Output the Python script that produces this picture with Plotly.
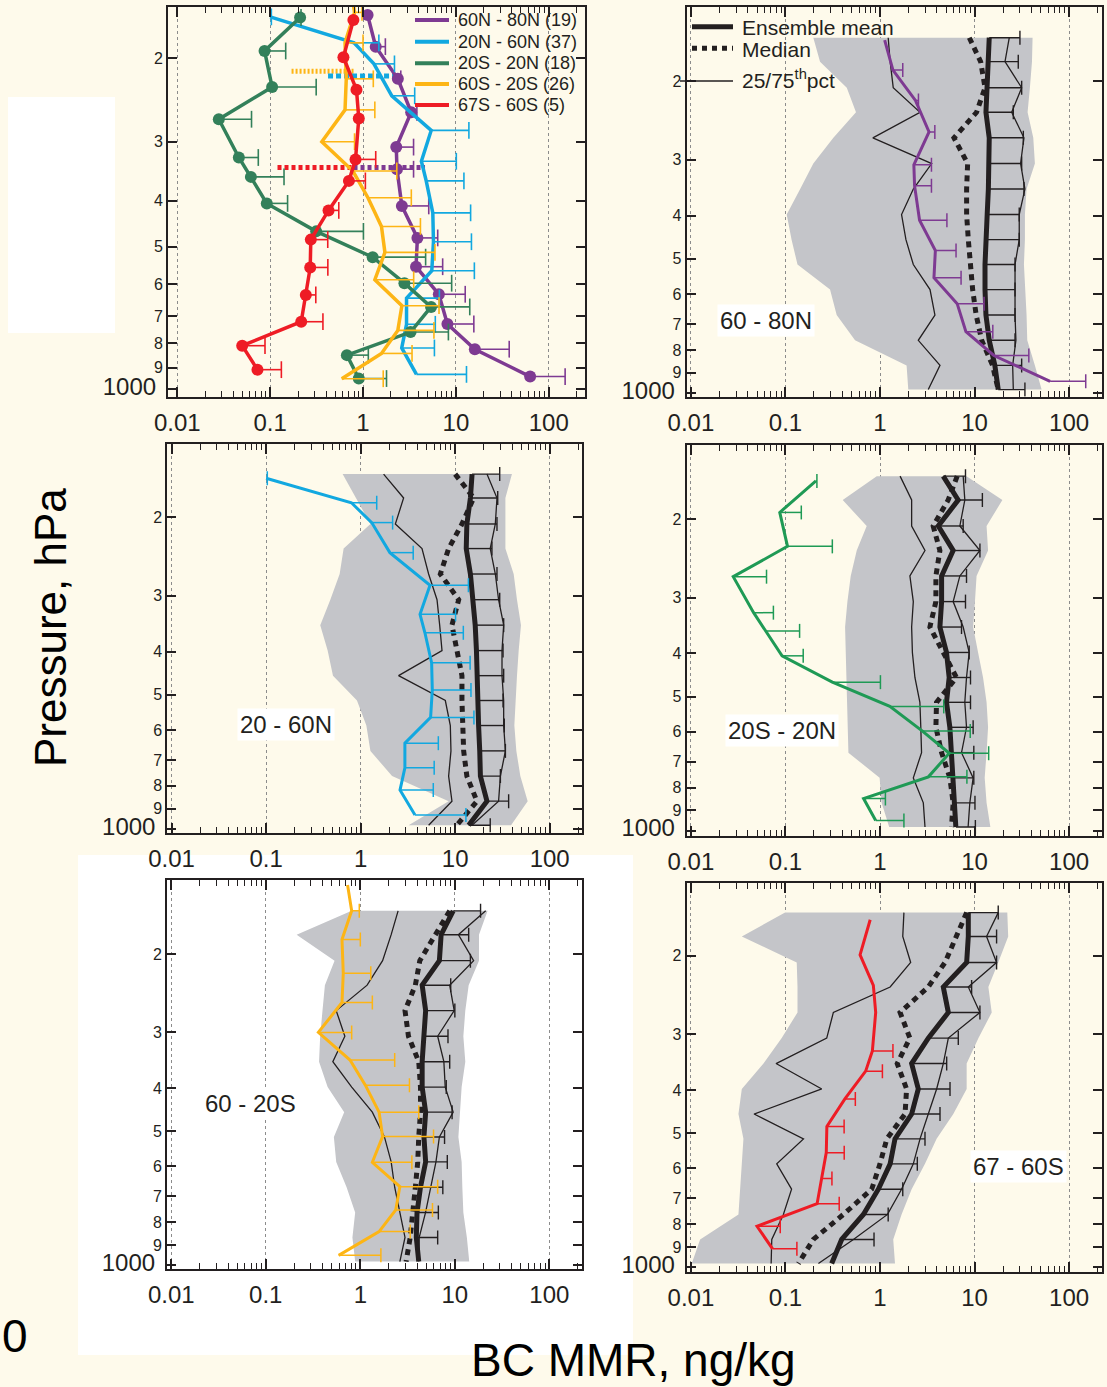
import plotly.graph_objects as go

W, H = 1107, 1387
CREAM = "#FEFAEB"
GRAY = "#C4C5C9"
INK = "#231F20"
PURPLE = "#7E3A92"
BLUE = "#12A8E0"
GREEN1 = "#33805A"
GREEN = "#1F9A55"
ORANGE = "#FDB515"
RED = "#EE1C25"
FONT = "Liberation Sans, Arial, Helvetica, sans-serif"

# ---------------- observations (BC MMR, ng/kg vs pressure, hPa) ----------------
obs_p_6080 = [162, 189, 221, 260, 308, 343, 410, 479, 551, 630, 728, 823, 940]
obs_x_6080 = [1.12, 1.37, 2.37, 3.3, 2.28, 2.32, 2.62, 3.85, 3.72, 6.55, 8.1, 16.0, 63.0]
obs_hi_6080 = [None, 1.74, 2.55, 3.8, 3.5, 3.5, 5.1, 6.37, 7.2, 12.6, 15.6, 37.5, 150.0]

obs_p_2060 = [163.5, 185.5, 205.5, 240, 284, 330, 363, 424, 488, 562, 642, 729, 818, 930]
obs_x_2060 = [0.1, 0.8, 1.31, 2.04, 5.42, 4.25, 4.79, 5.64, 5.73, 5.5, 2.94, 2.94, 2.61, 3.76]
obs_hi_2060 = [0.103, 1.48, 2.18, 3.6, 13.8, 10.1, 12.2, 14.4, 14.7, 15.8, 6.64, 6.0, 5.87, 13.0]

obs_p_trop = [164, 193, 230, 269, 324, 356, 405, 464, 526, 597, 670, 757, 847, 949]
obs_x_trop = [0.21, 0.087, 0.105, 0.028, 0.046, 0.062, 0.092, 0.313, 1.27, 2.79, 5.4, 3.25, 0.67, 0.90]
obs_hi_trop = [0.215, 0.147, 0.313, 0.063, 0.0745, 0.141, 0.154, 1.01, 4.72, 9.0, 14.1, 8.3, 1.14, 1.79]

obs_p_6020s = [140, 160, 185.5, 221, 257, 300, 346, 394, 453, 514, 587, 666, 751, 840, 950]
obs_x_6020s = [0.733, 0.81, 0.64, 0.66, 0.64, 0.36, 0.778, 1.13, 1.58, 1.72, 1.34, 2.62, 2.37, 1.58, 0.59]
obs_hi_6020s = [None, 0.975, 1.0, 1.29, 1.34, 0.81, 2.31, 3.31, 4.15, 5.95, 3.51, 6.58, 5.8, 3.37, 1.65]

obs_p_6760s = [166, 199, 233, 268, 327, 363, 419, 483, 553, 632, 720, 809, 909]
obs_x_6760s = [0.787, 0.615, 0.85, 0.9, 0.83, 0.705, 0.425, 0.274, 0.27, 0.242, 0.216, 0.05, 0.073]
obs_hi_6760s = [None, None, None, None, 1.37, 1.06, 0.548, 0.417, 0.418, 0.31, 0.37, 0.088, 0.132]

# dotted horizontal markers in the overview panel
dot_p = [213, 218, 340, 340]
dot_x0 = [0.17, 0.42, 0.12, 0.79]
dot_x1 = [0.79, 2.5, 0.79, 4.65]

band_names = ["60N - 80N (19)", "20N - 60N (37)", "20S - 20N (18)", "60S - 20S (26)", "67S - 60S (5)"]

# ---------------- model ensemble statistics ----------------
model_p = [160, 181, 207, 235, 268, 306, 349, 398, 453, 515, 586, 668, 761, 866, 981]

m6080_min = [0.197, 0.232, 0.445, 0.557, 0.321, 0.197, 0.143, 0.103, 0.116, 0.134, 0.296, 0.348, 0.544, 1.91, 1.99]
m6080_max = [41.1, 40.5, 38.5, 36.4, 41.8, 43.5, 35.5, 34.1, 34.1, 33.3, 34.1, 35.5, 36.1, 43.5, 51.2]
m6080_p25 = [1.22, 1.28, 1.38, 2.65, 0.84, 3.52, 2.25, 1.69, 1.88, 2.25, 3.38, 3.81, 2.54, 4.31, 3.24]
m6080_p75 = [23.3, 21.0, 31.5, 24.7, 33.3, 30.7, 34.1, 29.7, 29.7, 26.8, 26.8, 26.8, 27.4, 25.3, 25.7]
m6080_mean = [14.3, 14.0, 13.4, 13.2, 14.3, 14.3, 14.0, 13.6, 13.2, 12.9, 12.9, 13.2, 14.3, 16.4, 17.8]
m6080_hi = [30.2, 29.0, 31.5, 25.7, 32.8, 31.5, 33.3, 29.7, 29.7, 26.8, 26.8, 26.8, 26.8, 31.5, 34.1]
m6080_med = [8.8, 11.6, 12.9, 10.5, 6.06, 8.45, 8.24, 8.24, 8.59, 8.95, 9.55, 10.4, 11.9, 15.5, 17.8]

m2060_min = [0.645, 0.90, 1.27, 0.661, 0.6, 0.478, 0.374, 0.448, 0.51, 0.915, 1.15, 1.27, 2.15, 8.53, 3.22]
m2060_max = [39.9, 34.0, 34.0, 34.0, 41.6, 45.1, 49.7, 47.0, 45.1, 43.3, 42.3, 44.4, 48.9, 58.5, 39.0]
m2060_p25 = [1.75, 2.85, 2.33, 4.46, 5.24, 6.43, 6.86, 7.26, 2.52, 7.87, 8.89, 9.03, 8.53, 9.25, 5.24]
m2060_p75 = [21.7, 27.7, 26.6, 23.5, 26.6, 28.8, 32.6, 31.3, 31.3, 32.6, 32.6, 34.0, 30.1, 28.8, 15.1]
m2060_mean = [15.1, 14.5, 13.3, 13.1, 14.5, 15.4, 16.3, 16.8, 17.0, 17.3, 17.7, 18.2, 18.5, 21.7, 13.9]
m2060_hi = [29.6, 28.2, 27.7, 24.5, 27.7, 29.6, 32.6, 32.1, 32.6, 32.1, 33.1, 34.0, 30.1, 36.8, 23.5]
m2060_med = [10.0, 15.7, 11.8, 8.53, 6.97, 10.9, 9.25, 10.4, 11.8, 11.8, 12.1, 12.3, 13.3, 17.0, 10.4]

mtrop_min = [0.923, 0.403, 0.723, 0.567, 0.49, 0.452, 0.427, 0.434, 0.445, 0.452, 0.456, 0.463, 0.99, 1.04, 1.25]
mtrop_max = [8.22, 19.7, 13.4, 13.9, 10.5, 10.1, 9.66, 10.9, 12.3, 13.4, 13.9, 13.4, 12.8, 13.4, 14.7]
mtrop_p25 = [1.63, 2.16, 2.16, 2.99, 2.07, 2.25, 2.16, 2.2, 2.34, 2.64, 2.7, 2.75, 2.25, 2.87, 2.99]
mtrop_p75 = [7.58, 7.89, 6.99, 11.4, 6.99, 5.94, 7.58, 8.77, 8.22, 7.89, 8.22, 7.28, 9.66, 8.91, 8.55]
mtrop_mean = [4.66, 6.71, 4.13, 5.94, 4.48, 4.48, 4.3, 5.05, 5.39, 5.05, 5.48, 5.7, 5.94, 6.19, 6.34]
mtrop_hi = [8.02, 12.1, 7.58, 11.4, 8.22, 8.02, 7.28, 8.77, 9.06, 9.06, 9.66, 9.82, 9.82, 10.1, 10.2]
mtrop_med = [6.55, 5.26, 3.65, 4.3, 3.9, 3.9, 3.37, 4.66, 6.44, 3.96, 3.9, 4.48, 5.48, 5.94, 5.7]

m6020s_min = [0.811, 0.212, 0.534, 0.422, 0.398, 0.376, 0.366, 0.451, 0.675, 0.525, 0.556, 0.716, 0.882, 0.825, 0.882]
m6020s_max = [22.2, 18.0, 18.0, 14.0, 12.9, 12.3, 12.9, 11.8, 11.3, 10.9, 11.8, 12.0, 12.3, 13.4, 14.2]
m6020s_p25 = [2.51, 2.12, 1.72, 1.18, 0.556, 0.686, 0.512, 0.811, 1.34, 1.80, 2.12, 2.31, 2.62, 2.97, 2.62]
m6020s_p75 = [21.2, 10.9, 15.8, 8.82, 9.84, 6.58, 7.65, 7.91, 9.6, 6.86, 6.31, 5.56, 4.9, 4.2, 4.15]
m6020s_mean = [9.6, 7.16, 6.86, 4.51, 4.91, 4.71, 4.51, 4.51, 4.91, 4.71, 4.91, 4.33, 3.98, 3.91, 4.15]
m6020s_hi = [18.7, 14.0, 14.6, 9.04, 10.0, 8.46, 8.82, 8.11, 9.35, 7.78, 8.32, 7.46, 6.69, 6.58, None]
m6020s_med = [8.82, 6.31, 4.26, 3.82, 2.97, 3.23, 4.15, 4.33, 4.33, 4.15, 4.05, 3.82, 3.6, 3.37, 3.05]

m6760s_min = [0.099, 0.0345, 0.1315, 0.134, 0.134, 0.0912, 0.0585, 0.0345, 0.0318, 0.0359, 0.0345, 0.0331, 0.0318, 0.0125, 0.0102]
m6760s_max = [22.2, 22.7, 17.8, 14.0, 15.2, 11.0, 8.25, 8.25, 5.96, 3.97, 2.99, 2.16, 1.69, 1.38, 1.44]
m6760s_p25 = [1.79, 1.74, 2.11, 1.28, 0.321, 0.273, 0.0795, 0.242, 0.0465, 0.155, 0.0808, 0.116, 0.095, 0.0716, 0.0705]
m6760s_p75 = [17.8, 13.4, 17.1, 8.59, 11.4, 5.28, 4.67, 3.97, 3.24, 2.65, 2.25, 1.69, 1.2, 0.523, 0.223]
m6760s_mean = [8.59, 8.59, 8.25, 4.67, 5.28, 3.24, 2.16, 2.54, 2.16, 1.44, 1.28, 0.96, 0.667, 0.393, 0.308]
m6760s_hi = [17.8, 17.1, 17.1, 9.31, 11.4, 6.73, 5.07, 5.5, 4.31, 2.99, 2.48, 1.74, 1.22, 0.864, None]
m6760s_med = [8.25, 6.47, 4.87, 3.24, 1.63, 2.07, 1.52, 1.91, 1.84, 1.18, 1.0, 0.817, 0.41, 0.197, 0.137]

panel_labels = ["60 - 80N", "20 - 60N", "20S - 20N", "60 - 20S", "67 - 60S"]
x_tick_vals = [0.01, 0.1, 1, 10, 100]
x_tick_text = ["0.01", "0.1", "1", "10", "100"]
y_tick_vals = [200, 300, 400, 500, 600, 700, 800, 900, 1000]
y_tick_text = ["2", "3", "4", "5", "6", "7", "8", "9", '<span style="font-size:24px">1000 </span>']

fig = go.Figure()


def ax_ids(i):
    return ("x" if i == 1 else f"x{i}", "y" if i == 1 else f"y{i}")


def add_errbars(i, x, hi, p, color, width, cap):
    xa, ya = ax_ids(i)
    xs, ys, cx, cy = [], [], [], []
    for xv, hv, pv in zip(x, hi, p):
        if hv is None:
            continue
        xs += [xv, hv, None]
        ys += [pv, pv, None]
        cx.append(hv)
        cy.append(pv)
    fig.add_trace(go.Scatter(x=xs, y=ys, mode="lines", line=dict(color=color, width=width),
                             xaxis=xa, yaxis=ya, showlegend=False, hoverinfo="skip"))
    fig.add_trace(go.Scatter(x=cx, y=cy, mode="markers",
                             marker=dict(symbol="line-ns", size=cap, line=dict(color=color, width=width)),
                             xaxis=xa, yaxis=ya, showlegend=False, hoverinfo="skip"))


# ---------------- panel 1: all observations ----------------
obs_sets = [
    (obs_x_6080, obs_hi_6080, obs_p_6080, PURPLE, True),
    (obs_x_2060, obs_hi_2060, obs_p_2060, BLUE, False),
    (obs_x_trop, obs_hi_trop, obs_p_trop, GREEN1, True),
    (obs_x_6020s, obs_hi_6020s, obs_p_6020s, ORANGE, False),
    (obs_x_6760s, obs_hi_6760s, obs_p_6760s, RED, True),
]
dot_colors = [ORANGE, BLUE, RED, PURPLE]
dot_dash = ["2px,2px", "5px,3px", "4px,3px", "4px,3px"]
for k in range(len(dot_p)):
    fig.add_trace(go.Scatter(x=[dot_x0[k], dot_x1[k]], y=[dot_p[k], dot_p[k]], mode="lines",
                             line=dict(color=dot_colors[k], width=5, dash=dot_dash[k]),
                             xaxis="x", yaxis="y", showlegend=False, hoverinfo="skip"))
for (xv, hv, pv, col, mk), nm in zip(obs_sets, band_names):
    add_errbars(1, xv, hv, pv, col, 1.6, 12)
    fig.add_trace(go.Scatter(x=xv, y=pv, mode="lines+markers" if mk else "lines", name=nm,
                             line=dict(color=col, width=3.5),
                             marker=dict(size=12, color=col),
                             xaxis="x", yaxis="y", showlegend=False))

# ---------------- panels 2-6: models vs observations ----------------
model_sets = [
    (m6080_min, m6080_max, m6080_p25, m6080_p75, m6080_mean, m6080_hi, m6080_med, obs_sets[0], PURPLE),
    (m2060_min, m2060_max, m2060_p25, m2060_p75, m2060_mean, m2060_hi, m2060_med, obs_sets[1], BLUE),
    (mtrop_min, mtrop_max, mtrop_p25, mtrop_p75, mtrop_mean, mtrop_hi, mtrop_med, obs_sets[2], GREEN),
    (m6020s_min, m6020s_max, m6020s_p25, m6020s_p75, m6020s_mean, m6020s_hi, m6020s_med, obs_sets[3], ORANGE),
    (m6760s_min, m6760s_max, m6760s_p25, m6760s_p75, m6760s_mean, m6760s_hi, m6760s_med, obs_sets[4], RED),
]
for j, (mn, mx, p25, p75, mean, hi, med, obs, col) in enumerate(model_sets):
    i = j + 2
    xa, ya = ax_ids(i)
    fig.add_trace(go.Scatter(x=mn + mx[::-1], y=model_p + model_p[::-1], mode="lines", fill="toself",
                             fillcolor=GRAY, line=dict(width=0, color=GRAY),
                             xaxis=xa, yaxis=ya, showlegend=False, hoverinfo="skip"))
    for q in (p25, p75):
        fig.add_trace(go.Scatter(x=q, y=model_p, mode="lines", line=dict(color=INK, width=1.3),
                                 xaxis=xa, yaxis=ya, showlegend=False, name="25/75th pct"))
    fig.add_trace(go.Scatter(x=med, y=model_p, mode="lines", line=dict(color=INK, width=5, dash="6px,5px"),
                             xaxis=xa, yaxis=ya, showlegend=False, name="Median"))
    add_errbars(i, mean, hi, model_p, INK, 1.4, 10)
    fig.add_trace(go.Scatter(x=mean, y=model_p, mode="lines", line=dict(color=INK, width=5),
                             xaxis=xa, yaxis=ya, showlegend=False, name="Ensemble mean"))
    ox, ohi, op, _, _ = obs
    add_errbars(i, ox, ohi, op, col, 1.5, 10)
    fig.add_trace(go.Scatter(x=ox, y=op, mode="lines", line=dict(color=col, width=3),
                             xaxis=xa, yaxis=ya, showlegend=False))

# ---------------- axes ----------------
minor_vals = [k * 10.0 ** e for e in range(-2, 3) for k in range(2, 10)]
domains = {
    1: ([168, 585], [7, 397], [-2.1, 2.39], [3.0163, 2.1927]),
    2: ([686.7, 1101.7], [7.3, 396.7], [-2.045, 2.345], [3.0076, 2.136]),
    3: ([167.3, 582.3], [444, 833.3], [-2.045, 2.345], [3.0096, 2.1366]),
    4: ([686.7, 1101.7], [445, 835.7], [-2.045, 2.345], [3.0112, 2.1342]),
    5: ([167, 582], [880, 1269.3], [-2.045, 2.345], [3.009, 2.1349]),
    6: ([686.7, 1101.7], [882.7, 1271.7], [-2.045, 2.345], [3.0099, 2.137]),
}
layout = dict(
    width=W, height=H, margin=dict(l=0, r=0, t=0, b=0, pad=0, autoexpand=False),
    paper_bgcolor=CREAM, plot_bgcolor="rgba(0,0,0,0)",
    font=dict(family=FONT, color=INK), showlegend=False,
)
for i, (xd, yd, xr, yr) in domains.items():
    xa, ya = ax_ids(i)
    xkey = "xaxis" if i == 1 else f"xaxis{i}"
    ykey = "yaxis" if i == 1 else f"yaxis{i}"
    layout[xkey] = dict(
        type="log", domain=[xd[0] / W, xd[1] / W], range=xr, anchor=ya,
        tickmode="array", tickvals=x_tick_vals, ticktext=x_tick_text,
        ticks="inside", ticklen=10, tickwidth=1.5, tickcolor=INK,
        minor=dict(tickmode="array", tickvals=minor_vals, ticks="inside", ticklen=6,
                   tickwidth=1.2, tickcolor=INK, showgrid=False),
        showline=True, linewidth=2, linecolor=INK, mirror="ticks",
        showgrid=True, gridcolor="#8c8c8c", griddash="dot", gridwidth=1,
        tickfont=dict(size=24, color=INK), ticklabelstandoff=3, zeroline=False,
        layer="above traces", automargin=False,
    )
    layout[ykey] = dict(
        type="log", domain=[1 - yd[1] / H, 1 - yd[0] / H], range=yr, anchor=xa,
        tickmode="array", tickvals=y_tick_vals, ticktext=y_tick_text,
        ticks="inside", ticklen=9, tickwidth=1.5, tickcolor=INK,
        showline=True, linewidth=2, linecolor=INK, mirror="ticks",
        showgrid=False, zeroline=False, tickfont=dict(size=16, color=INK),
        layer="above traces", automargin=False,
    )

fig.update_layout(**layout)

shapes = [
    dict(type="rect", xref="paper", yref="paper", x0=8 / W, x1=115 / W, y0=1 - 333 / H, y1=1 - 97 / H,
         fillcolor="white", line=dict(width=0), layer="below"),
    dict(type="rect", xref="paper", yref="paper", x0=78 / W, x1=633 / W, y0=1 - 1355 / H, y1=1 - 855 / H,
         fillcolor="white", line=dict(width=0), layer="below"),
]
annotations = []

# legend of panel 1 (band names)
leg1_rows = [20, 41.7, 63.3, 84, 105]
for nm, (_, _, _, col, _), yy in zip(band_names, obs_sets, leg1_rows):
    shapes.append(dict(type="line", xref="paper", yref="paper", x0=415 / W, x1=449 / W,
                       y0=1 - yy / H, y1=1 - yy / H, line=dict(color=col, width=4)))
    annotations.append(dict(text=nm, xref="paper", yref="paper", x=456 / W, y=1 - yy / H,
                            xanchor="left", yanchor="middle", showarrow=False,
                            font=dict(size=18, color=INK)))

# legend of panel 2 (ensemble statistics)
leg2 = [("Ensemble mean", 26.7, 27, dict(color=INK, width=5), 692),
        ("Median", 48.3, 49.5, dict(color=INK, width=5, dash="5px,5px"), 692),
        ("25/75<sup>th</sup>pct", 81, 79, dict(color=INK, width=1.3), 680)]
for txt, yl, yt, ln, x0 in leg2:
    shapes.append(dict(type="line", xref="paper", yref="paper", x0=x0 / W, x1=733 / W,
                       y0=1 - yl / H, y1=1 - yl / H, line=ln))
    annotations.append(dict(text=txt, xref="paper", yref="paper", x=740 / W, y=1 - yt / H,
                            xanchor="left", yanchor="middle", showarrow=False,
                            font=dict(size=21, color=INK)))

# panel region labels
label_pos = [(766, 321), (286, 724), (782, 730), (250, 1103), (1018, 1166)]
for txt, (px, py) in zip(panel_labels, label_pos):
    annotations.append(dict(text=txt, xref="paper", yref="paper", x=px / W, y=1 - py / H,
                            xanchor="center", yanchor="middle", showarrow=False, bgcolor="white",
                            borderpad=2, font=dict(size=24, color=INK)))

annotations += [
    dict(text="Pressure, hPa", xref="paper", yref="paper", x=50 / W, y=1 - 628 / H, textangle=-90,
         xanchor="center", yanchor="middle", showarrow=False, font=dict(size=44, color="black")),
    dict(text="BC MMR, ng/kg", xref="paper", yref="paper", x=633 / W, y=1 - 1360 / H,
         xanchor="center", yanchor="middle", showarrow=False, font=dict(size=46, color="black")),
    dict(text="0", xref="paper", yref="paper", x=0, y=1 - 1336 / H,
         xanchor="left", yanchor="middle", showarrow=False, font=dict(size=46, color="black")),
]

fig.update_layout(shapes=shapes, annotations=annotations)
fig.write_html("out.html")
